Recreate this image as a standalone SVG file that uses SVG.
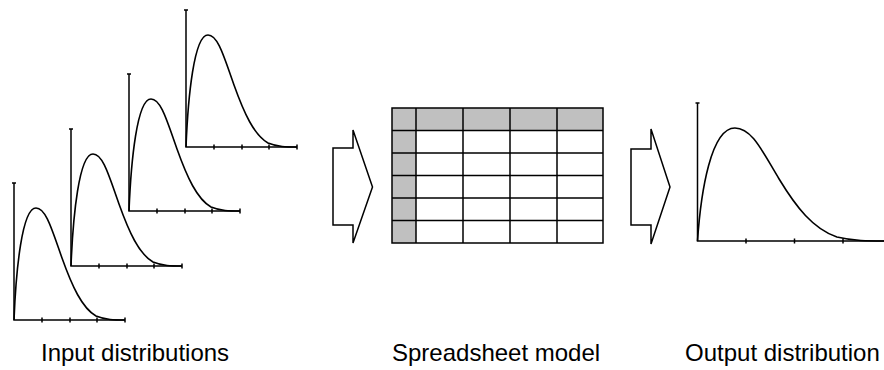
<svg xmlns="http://www.w3.org/2000/svg" xmlns:xlink="http://www.w3.org/1999/xlink" width="884" height="370" viewBox="0 0 884 370">
<style>
.ln{fill:none;stroke:#000;stroke-width:1.5;stroke-linecap:butt;stroke-linejoin:miter}
.cv{fill:none;stroke:#000;stroke-width:1.6}
.grey{fill:#c0c0c0}
.arrow{fill:#fff;stroke:#000;stroke-width:1.5;stroke-linejoin:miter}
.lbl{font-family:"Liberation Sans",Arial,Helvetica,sans-serif;font-size:24px;fill:#000}
</style>
<defs>
<g id="dist">
<path class="ln" d="M0,-137 V0 H111 M-2,-137 H2 M28,-2.5 V2.5 M56,-2.5 V2.5 M83,-2.5 V2.5 M111,-2.5 V2.5"/>
<path class="cv" d="M0,0 C2,-50 8,-112 22,-112 C32,-112 38,-90 48,-62 C58,-34 68,-12 82,-4 C92,0 100,0 111,0"/>
</g>
</defs>
<g id="input-1" transform="translate(14,320)"><use xlink:href="#dist"/></g>
<g id="input-2" transform="translate(71,266)"><use xlink:href="#dist"/></g>
<g id="input-3" transform="translate(129,211)"><use xlink:href="#dist"/></g>
<g id="input-4" transform="translate(186,147)"><use xlink:href="#dist"/></g>
<g id="connectors">
<polygon class="arrow" points="333,148 353,148 353,130 372.5,187 353,243 353,225 333,225"/>
<polygon class="arrow" points="631,149 651,149 651,129 670,187 651,244 651,225 631,225"/>
</g>
<g id="spreadsheet">
<rect class="grey" x="392" y="108" width="211" height="22.5"/>
<rect class="grey" x="392" y="108" width="24" height="135"/>
<path class="ln" d="M392,108 H603 V243 H392 Z M392,130.5 H603 M392,153 H603 M392,175.5 H603 M392,198 H603 M392,220.5 H603 M416,108 V243 M463,108 V243 M510,108 V243 M557,108 V243"/>
</g>
<g id="output" transform="translate(697.5,241)">
<path class="ln" d="M0,-138 V0 H187 M-2,-138 H2 M48.5,-2.5 V2.5 M97,-2.5 V2.5 M145.5,-2.5 V2.5"/>
<path class="cv" d="M0,0 C3.4,-50 13.6,-113 37.4,-113 C54.4,-113 64.6,-90 81.6,-62 C98.6,-34 115.6,-12 139.4,-4 C156.4,0 170,0 188,0"/>
</g>
<g id="labels">
<text class="lbl" x="41" y="361">Input distributions</text>
<text class="lbl" x="392" y="361">Spreadsheet model</text>
<text class="lbl" x="685" y="361">Output distribution</text>
</g>
</svg>
